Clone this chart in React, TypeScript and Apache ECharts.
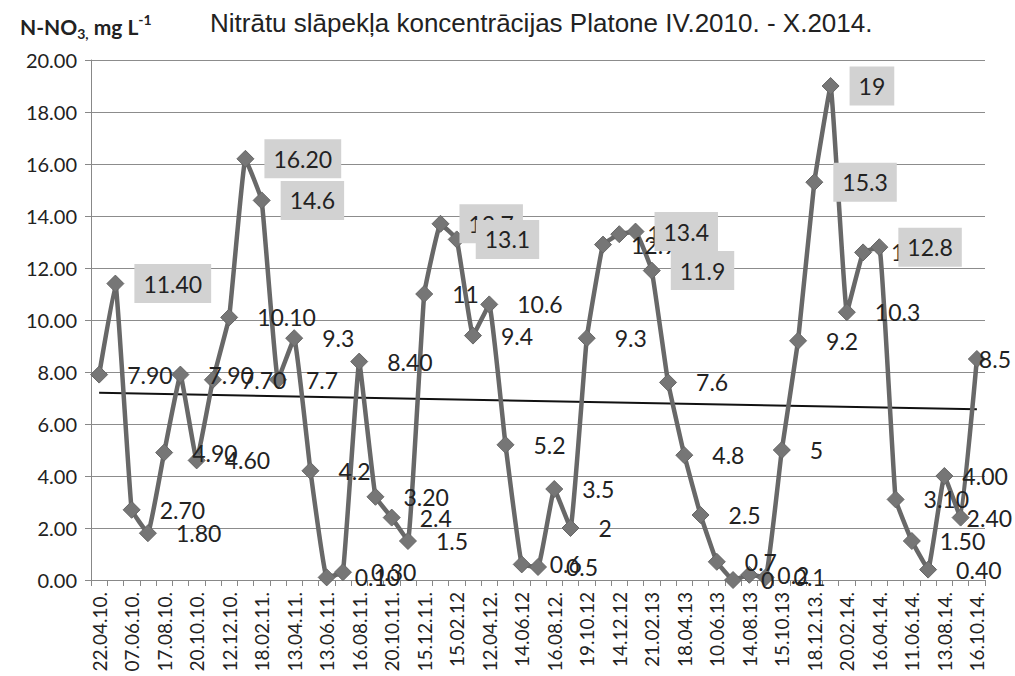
import React, { useEffect, useRef } from 'react';
import * as echarts from 'echarts';

const dateLabels = [
  '22.04.10.', '07.06.10.', '17.08.10.', '20.10.10.', '12.12.10.', '18.02.11.', '13.04.11.',
  '13.06.11.', '16.08.11.', '20.10.11.', '15.12.11.', '15.02.12', '12.04.12.', '14.06.12',
  '16.08.12.', '19.10.12', '14.12.12', '21.02.13', '18.04.13', '10.06.13', '14.08.13',
  '15.10.13', '18.12.13.', '20.02.14.', '16.04.14.', '11.06.14.', '13.08.14.', '16.10.14.',
];

const values = [
  7.9, 11.4, 2.7, 1.8, 4.9, 7.9, 4.6, 7.7, 10.1, 16.2, 14.6, 7.7, 9.3, 4.2, 0.1, 0.3,
  8.4, 3.2, 2.4, 1.5, 11, 13.7, 13.1, 9.4, 10.6, 5.2, 0.6, 0.5, 3.5, 2, 9.3, 12.9,
  13.3, 13.4, 11.9, 7.6, 4.8, 2.5, 0.7, 0, 0.2, 0.1, 5, 9.2, 15.3, 19, 10.3, 12.6,
  12.8, 3.1, 1.5, 0.4, 4.0, 2.4, 8.5,
];

const labelTexts = [
  '7.90', '11.40', '2.70', '1.80', '4.90', '7.90', '4.60', '7.70', '10.10', '16.20', '14.6',
  '7.7', '9.3', '4.2', '0.10', '0.30', '8.40', '3.20', '2.4', '1.5', '11', '13.7', '13.1',
  '9.4', '10.6', '5.2', '0.6', '0.5', '3.5', '2', '9.3', '12.9', '13.3', '13.4', '11.9',
  '7.6', '4.8', '2.5', '0.7', '0', '0.2', '0.1', '5', '9.2', '15.3', '19', '10.3', '12.6',
  '12.8', '3.10', '1.50', '0.40', '4.00', '2.40', '8.5',
];

const boxedIndices = [1, 9, 10, 21, 22, 33, 34, 44, 45, 48];

const trendStart = 7.2;
const trendEnd = 6.57;

const yTicks = { min: 0, max: 20, interval: 2 };

const FONT = 'Lato, "Open Sans", sans-serif';

// horizontal label shifts for the last points (labels squeezed at the right edge)
const labelShift: Record<number, number> = { 52: -10, 53: -22, 54: -26 };

export default function App() {
  const ref = useRef<HTMLDivElement>(null);
  useEffect(() => {
    if (!ref.current) return;
    const chart = echarts.init(ref.current, null, { renderer: 'svg' });

    const categories: string[] = [];
    dateLabels.forEach((d, i) => {
      categories.push(d);
      if (i < dateLabels.length - 1) categories.push(' '.repeat(i + 1));
    });

    const seriesData = values.map((v, i) => {
      const lbl: any = {};
      if (boxedIndices.includes(i)) lbl.backgroundColor = '#d2d2d2';
      if (labelShift[i] !== undefined) lbl.offset = [labelShift[i], 0];
      return Object.keys(lbl).length ? { value: v, label: lbl } : { value: v };
    });

    const option: any = {
      animation: false,
      backgroundColor: '#ffffff',
      textStyle: { fontFamily: FONT },
      title: [
        {
          left: 15,
          top: 7,
          text: '{a|N-NO}{s|3,}{a| mg L}{p|-1}',
          textStyle: {
            rich: {
              a: { fontSize: 21, fontWeight: 'bold', fontFamily: 'Lato, "Open Sans", sans-serif', color: '#222', lineHeight: 28 },
              s: { fontSize: 14, fontWeight: 'bold', fontFamily: 'Lato, "Open Sans", sans-serif', color: '#222', lineHeight: 14, verticalAlign: 'bottom' },
              p: { fontSize: 14, fontWeight: 'bold', fontFamily: 'Lato, "Open Sans", sans-serif', color: '#222', lineHeight: 14, verticalAlign: 'top' },
            },
          },
        },
        {
          left: 205,
          top: 5,
          text: 'Nitrātu slāpekļa koncentrācijas Platone IV.2010. - X.2014.',
          textStyle: {
            fontSize: 26,
            fontWeight: 'normal',
            fontFamily: '"Liberation Sans Narrow", "Liberation Sans", sans-serif',
            color: '#222',
          },
        },
      ],
      grid: { left: 91, right: 30, top: 60, bottom: 96 },
      xAxis: {
        type: 'category',
        data: categories,
        boundaryGap: true,
        axisLine: { show: true, lineStyle: { color: '#888', width: 1 } },
        axisTick: { show: true, interval: 0, length: 6, lineStyle: { color: '#888' } },
        axisLabel: { interval: 1, rotate: 90, fontSize: 19, color: '#222', margin: 12, fontFamily: FONT },
        splitLine: { show: false },
      },
      yAxis: {
        type: 'value',
        min: yTicks.min,
        max: yTicks.max,
        interval: yTicks.interval,
        axisLine: { show: true, lineStyle: { color: '#888', width: 1 } },
        axisTick: { show: true, length: 6, lineStyle: { color: '#888' } },
        axisLabel: { formatter: (v: number) => v.toFixed(2), fontSize: 20, color: '#222', margin: 14, fontFamily: FONT },
        splitLine: { show: true, lineStyle: { color: '#8c8c8c', width: 1 } },
      },
      series: [
        {
          type: 'line',
          data: [[0, trendStart], [values.length - 1, trendEnd]],
          symbol: 'none',
          lineStyle: { color: '#111', width: 2 },
          silent: true,
          z: 1,
        },
        {
          type: 'line',
          data: seriesData,
          smooth: 0.08,
          showAllSymbol: true,
          symbol: 'diamond',
          symbolSize: 17,
          itemStyle: { color: '#767676', borderColor: '#666', borderWidth: 1 },
          lineStyle: { color: '#686868', width: 4.5 },
          z: 2,
          label: {
            show: true,
            position: 'right',
            distance: 10,
            formatter: (p: any) => labelTexts[p.dataIndex],
            fontSize: 23,
            color: '#222',
            padding: [8, 9],
            fontFamily: FONT,
          },
        },
      ],
    };
    chart.setOption(option);
    return () => chart.dispose();
  }, []);
  return (
    <div
      ref={ref}
      style={{ position: 'fixed', left: 0, top: 0, width: 1015, height: 676, background: '#fff' }}
    />
  );
}
